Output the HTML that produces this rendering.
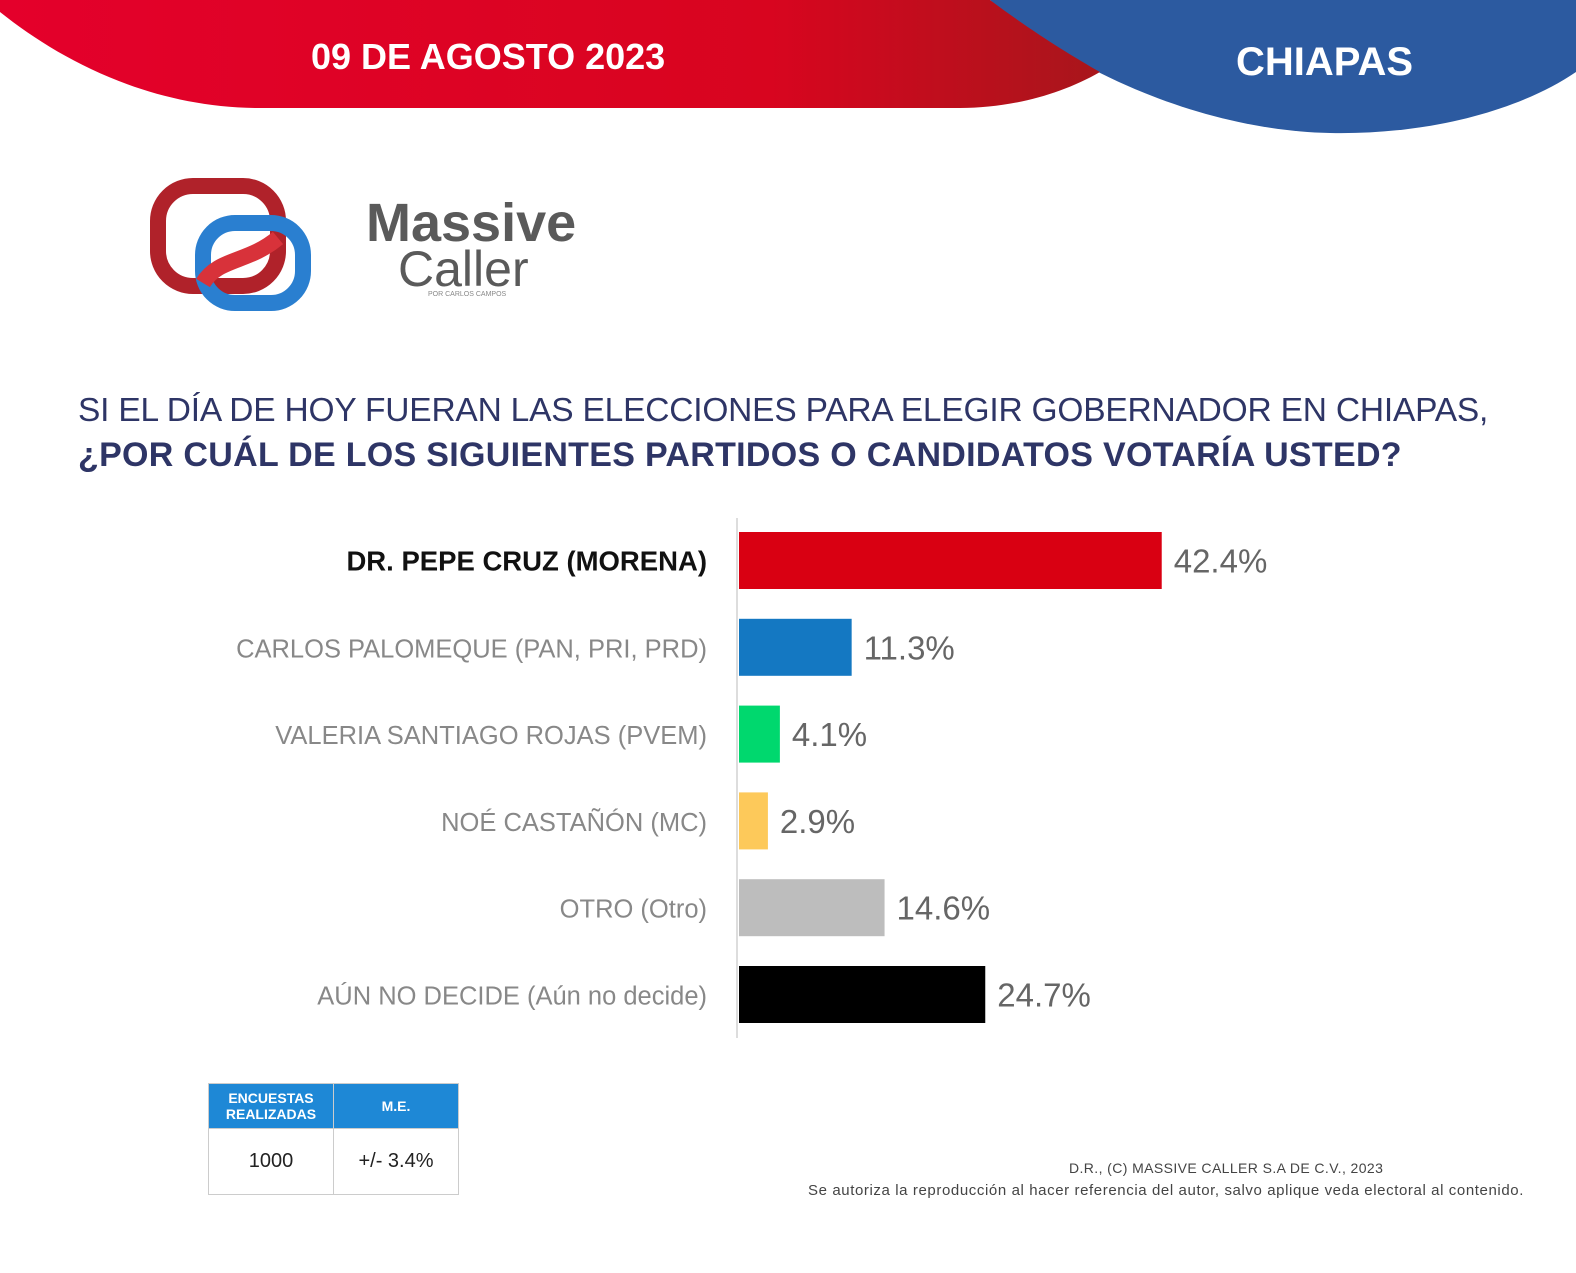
<!DOCTYPE html>
<html><head><meta charset="utf-8"><style>
body{margin:0;width:1576px;height:1273px;background:#fff;overflow:hidden;font-family:"Liberation Sans","DejaVu Sans",sans-serif;position:relative}
.t{position:absolute;white-space:nowrap}
</style></head><body>
<svg width="1576" height="140" style="position:absolute;left:0;top:0">
<defs><linearGradient id="rg" x1="0" x2="1"><stop offset="0" stop-color="#e4002b"/><stop offset="0.7" stop-color="#d8051f"/><stop offset="1" stop-color="#a8161b"/></linearGradient></defs>
<path d="M990,0 L1576,0 L1576,72 C1520,110 1430,135 1330,133 C1200,130 1070,70 990,0 Z" fill="#2c5aa0"/>
<path d="M0,0 L990,0 C1030,30 1070,55 1100,72 C1060,95 1010,108 960,108 L260,108 C150,108 60,60 0,12 Z" fill="url(#rg)"/>
</svg>
<div class="t" style="left:311px;top:36px;font-size:36px;font-weight:bold;color:#fff">09 DE AGOSTO 2023</div>
<div class="t" style="left:1236px;top:40px;font-size:40px;font-weight:bold;color:#fff">CHIAPAS</div>
<svg width="170" height="140" style="position:absolute;left:148px;top:178px">
<rect x="10" y="8" width="120" height="100" rx="35" fill="none" stroke="#b0222a" stroke-width="16"/>
<rect x="55" y="45" width="100" height="80" rx="32" fill="none" stroke="#2a7fd0" stroke-width="16"/>
<path d="M55,105 C70,80 100,85 130,60" stroke="#d8323a" stroke-width="16" fill="none"/>
</svg>
<div class="t" style="left:366px;top:192px;font-size:54px;font-weight:bold;color:#5a5a5a">Massive</div>
<div class="t" style="left:398px;top:240px;font-size:50px;color:#5a5a5a">Caller</div>
<div class="t" style="left:428px;top:291px;font-size:7px;color:#888">POR CARLOS CAMPOS</div>
<div class="t" style="left:78px;top:392px;font-size:33.5px;letter-spacing:-0.2px;color:#2e3566">SI EL DÍA DE HOY FUERAN LAS ELECCIONES PARA ELEGIR GOBERNADOR EN CHIAPAS,</div>
<div class="t" style="left:78px;top:436px;font-size:34px;letter-spacing:0.3px;font-weight:bold;color:#2e3566">¿POR CUÁL DE LOS SIGUIENTES PARTIDOS O CANDIDATOS  VOTARÍA USTED?</div>
<svg id="chart" width="1576" height="1273" style="position:absolute;left:0;top:0"></svg>
<table style="position:absolute;left:208px;top:1083px;border-collapse:collapse;font-family:'Liberation Sans',sans-serif">
<tr style="background:#1e88d6;color:#fff;font-weight:bold;font-size:14px;height:45px;text-align:center"><td style="width:122px;border:1px solid #ccc;line-height:16px">ENCUESTAS<br>REALIZADAS</td><td style="width:122px;border:1px solid #ccc">M.E.</td></tr>
<tr style="height:66px;font-size:20px;color:#222;text-align:center"><td style="border:1px solid #ccc">1000</td><td style="border:1px solid #ccc">+/- 3.4%</td></tr>
</table>
<div class="t" style="left:1069px;top:1160px;font-size:14px;letter-spacing:0.4px;color:#444">D.R., (C) MASSIVE CALLER S.A DE C.V., 2023</div>
<div class="t" style="left:808px;top:1182px;font-size:15px;letter-spacing:0.6px;color:#444">Se autoriza la reproducción al hacer referencia del autor, salvo aplique veda electoral al contenido.</div>
<script>
const categories=["DR. PEPE CRUZ (MORENA)","CARLOS PALOMEQUE (PAN, PRI, PRD)","VALERIA SANTIAGO ROJAS (PVEM)","NOÉ CASTAÑÓN (MC)","OTRO (Otro)","AÚN NO DECIDE (Aún no decide)"];
const values=[42.4,11.3,4.1,2.9,14.6,24.7];
const valueLabels=["42.4%","11.3%","4.1%","2.9%","14.6%","24.7%"];
const colors=["#d90012","#1478c2","#00d86e","#fdc95a","#bdbdbd","#000000"];
const svg=document.getElementById('chart');const NS="http://www.w3.org/2000/svg";
const x0=739,pxPer=9.97,y0=532,step=86.8,bh=57;
const xs=v=>x0+v*pxPer, ys=i=>y0+i*step;
function mk(t,a){const e=document.createElementNS(NS,t);for(const k in a)e.setAttribute(k,a[k]);svg.appendChild(e);return e;}
const ax=mk('line',{x1:737,x2:737,y1:518,y2:1038,stroke:'#ddd','stroke-width':2});


values.forEach((v,i)=>{
 const r=mk('rect',{x:x0,y:ys(i),width:xs(v)-x0,height:bh,fill:colors[i]});
 
 
 const l=mk('text',{x:707,y:ys(i)+bh/2+10,'text-anchor':'end','font-size':i==0?27.5:25.5,'font-weight':i==0?'bold':'normal',fill:i==0?'#111':'#888','font-family':'Liberation Sans, sans-serif'});
 l.textContent=categories[i];
 
 
 const t=mk('text',{x:xs(v)+12,y:ys(i)+bh/2+12,'font-size':33,fill:'#666','font-family':'Liberation Sans, sans-serif'});
 t.textContent=valueLabels[i];
 
 
});
</script>
</body></html>
